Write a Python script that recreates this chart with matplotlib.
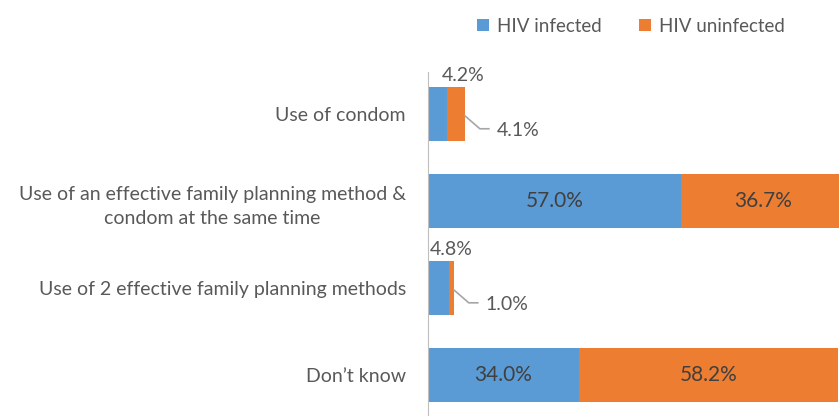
import matplotlib.pyplot as plt
from matplotlib.transforms import ScaledTranslation

plt.rcParams['font.family'] = ['Lato', 'DejaVu Sans']

categories = ['Use of condom',
              'Use of an effective family planning method &\ncondom at the same time',
              'Use of 2 effective family planning methods',
              'Don\u2019t know']
infected = [4.2, 57.0, 4.8, 34.0]
uninfected = [4.1, 36.7, 1.0, 58.2]

blue = '#5B9BD5'
orange = '#ED7D31'
txt = '#595959'

fig = plt.figure(figsize=(8.39, 4.16), dpi=100)
ax = fig.add_axes([428 / 839, 0, 1 - 428 / 839, 1 - 72 / 416])

y = list(range(len(categories)))
h = 0.62
ax.barh(y, infected, height=h, color=blue, label='HIV infected')
ax.barh(y, uninfected, left=infected, height=h, color=orange, label='HIV uninfected')

ax.set_xlim(0, 92.5)
ax.set_ylim(3.47, -0.483)
ax.set_yticks(y)
ax.set_yticklabels(categories, fontsize=14, color=txt, ha='right',
                   multialignment='center', linespacing=1.5)
ax.tick_params(axis='y', length=0, pad=16)
ax.set_xticks([])
for s in ['top', 'right', 'bottom']:
    ax.spines[s].set_visible(False)
ax.spines['left'].set_color('#bfbfbf')

for i, (a, b) in enumerate(zip(infected, uninfected)):
    if a > 10:
        ax.text(a / 2, i, f'{a:.1f}%', ha='center', va='center', fontsize=15, color='#404040')
        ax.text(a + b / 2, i, f'{b:.1f}%', ha='center', va='center', fontsize=15, color='#404040')
    else:
        ax.text(a + b - 0.5, i - h / 2 - 0.04, f'{a:.1f}%', ha='center', va='bottom',
                fontsize=14, color=txt)
        # leader line for the small orange segment
        p0 = ax.transData + ScaledTranslation(0, 0, fig.dpi_scale_trans)
        p1 = ax.transData + ScaledTranslation(15 / 100, -13 / 100, fig.dpi_scale_trans)
        p2 = ax.transData + ScaledTranslation(24 / 100, -13 / 100, fig.dpi_scale_trans)
        xs, ys = a + b, i + 0.02
        pts = [t.transform((xs, ys)) for t in (p0, p1, p2)]
        inv = ax.transData.inverted()
        dpts = [inv.transform(p) for p in pts]
        ax.plot([d[0] for d in dpts], [d[1] for d in dpts], color='#a6a6a6', lw=1.2, clip_on=False)
        ax.annotate(f'{b:.1f}%', xy=(xs, ys), xytext=(32 / 100 * 72, -15 / 100 * 72),
                    textcoords='offset points', ha='left', va='center', fontsize=14, color=txt)

fig.legend(loc='center', bbox_to_anchor=(631 / 839, 1 - 26 / 416), ncol=2, frameon=False,
           fontsize=13.5, labelcolor=txt, handlelength=0.65, handleheight=0.65,
           handletextpad=0.4, columnspacing=2.0)

fig.savefig('out.png', dpi=100)
